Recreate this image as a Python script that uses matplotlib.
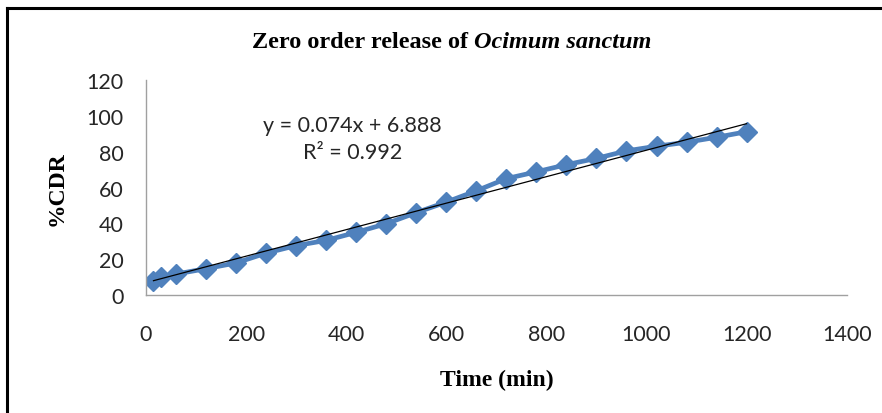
import matplotlib
matplotlib.use("Agg")
import matplotlib.pyplot as plt
import numpy as np

# Release data
time_min = [15, 30, 60, 120, 180, 240, 300, 360, 420, 480, 540, 600,
            660, 720, 780, 840, 900, 960, 1020, 1080, 1140, 1200]
cdr = [8.0, 9.9, 11.7, 14.7, 17.9, 23.4, 27.6, 30.5, 35.0, 39.8, 46.0, 51.9,
       58.2, 65.0, 68.8, 72.8, 76.3, 80.5, 83.1, 85.3, 88.1, 91.2]
slope, intercept = 0.074, 6.888
r_squared = 0.992

x_ticks = [0, 200, 400, 600, 800, 1000, 1200, 1400]
y_ticks = [0, 20, 40, 60, 80, 100, 120]

tick_font = "Lato"
serif = "Liberation Serif"

fig = plt.figure(figsize=(8.82, 4.14), dpi=100)
ax = fig.add_axes([0.1655, 0.285, 0.7945, 0.519])

# Measured points
ax.plot(time_min, cdr, color="#4F81BD", lw=3.4, marker="D", ms=10,
        mec="#4F81BD", mfc="#4F81BD", zorder=2)

# Linear trend line over the data range
tx = np.array([time_min[0], time_min[-1]])
ax.plot(tx, slope * tx + intercept, color="black", lw=0.9, zorder=3)

ax.text(412, 87.5, f"y = {slope:.3f}x + {intercept:.3f}\nR\u00b2 = {r_squared:.3f}",
        ha="center", va="center", fontsize=15.5,
        family=[tick_font, "DejaVu Sans"], color="#262626", linespacing=1.4)

ax.set_xlim(0, 1400)
ax.set_ylim(0, 120)
ax.set_xticks(x_ticks)
ax.set_yticks(y_ticks)
ax.tick_params(length=0, labelsize=15.5, labelcolor="#262626")
ax.tick_params(axis="x", pad=21)
ax.tick_params(axis="y", pad=16)
for lab in ax.get_xticklabels() + ax.get_yticklabels():
    lab.set_family(tick_font)

for side in ("top", "right"):
    ax.spines[side].set_visible(False)
for side in ("left", "bottom"):
    ax.spines[side].set_color("#A0A0A0")
    ax.spines[side].set_linewidth(1.0)

ax.set_xlabel("Time (min)", family=serif, fontweight="bold", fontsize=17,
              labelpad=17.5)
ax.set_ylabel("%CDR", family=serif, fontweight="bold", fontsize=17,
              labelpad=14)

# Title: regular part in bold, species name in bold italic
fig.canvas.draw()
renderer = fig.canvas.get_renderer()
t1 = fig.text(0, 0.898, "Zero order release of ", family=serif,
              fontweight="bold", fontsize=17.5, va="center", ha="left")
t2 = fig.text(0, 0.898, "Ocimum sanctum", family=serif, fontweight="bold",
              fontstyle="italic", fontsize=17.5, va="center", ha="left")
w1 = t1.get_window_extent(renderer).width
w2 = t2.get_window_extent(renderer).width
x0 = 452 - (w1 + w2) / 2
t1.set_x(x0 / fig.bbox.width)
t2.set_x((x0 + w1) / fig.bbox.width)

# Outer frame (top and left edges)
fig.add_artist(plt.Line2D([0.008, 1.0], [0.979, 0.979], color="black", lw=2.2))
fig.add_artist(plt.Line2D([0.0085, 0.0085], [0.0, 0.979], color="black", lw=2.2))

fig.savefig("out.png", dpi=100)
